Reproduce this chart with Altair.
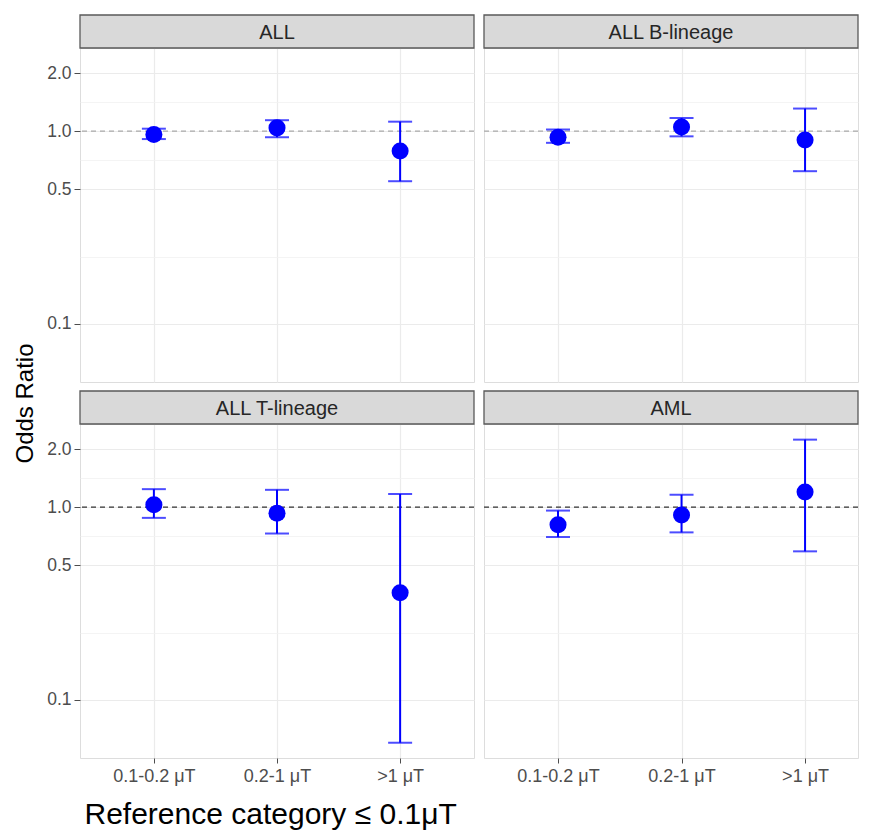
import altair as alt
import pandas as pd

# ---- data ----
PANELS = ["ALL", "ALL B-lineage", "ALL T-lineage", "AML"]
CATS = ["0.1-0.2 μT", "0.2-1 μT", ">1 μT"]

OR_ALL = [0.96, 1.04, 0.79]
LO_ALL = [0.91, 0.93, 0.55]
HI_ALL = [1.03, 1.14, 1.12]

OR_B = [0.93, 1.05, 0.90]
LO_B = [0.87, 0.94, 0.62]
HI_B = [1.02, 1.17, 1.31]

OR_T = [1.03, 0.93, 0.36]
LO_T = [0.88, 0.73, 0.06]
HI_T = [1.24, 1.23, 1.17]

OR_AML = [0.81, 0.91, 1.20]
LO_AML = [0.70, 0.74, 0.59]
HI_AML = [0.96, 1.16, 2.24]

Y_MAJOR = [0.1, 0.5, 1.0, 2.0]
Y_MINOR = [0.2236, 0.7071, 1.4142]
Y_DOMAIN = [0.05, 2.7]

rows = []
for name, o, lo, hi in [
    ("ALL", OR_ALL, LO_ALL, HI_ALL),
    ("ALL B-lineage", OR_B, LO_B, HI_B),
    ("ALL T-lineage", OR_T, LO_T, HI_T),
    ("AML", OR_AML, LO_AML, HI_AML),
]:
    for c, a, b, d in zip(CATS, o, lo, hi):
        rows.append({"panel": name, "cat": c, "odds": a, "lo": b, "hi": d})
df = pd.DataFrame(rows)

FONT = "Liberation Sans"
BLUE = "#0000FF"
H = 334
STRIP = 33

major_test = f"indexof({Y_MAJOR}, datum.value) >= 0"


def panel(name, col, row):
    d = df[df.panel == name]
    top = row == 0
    left = col == 0
    W = 394 if left else 374
    if left:
        xscale = alt.Scale(type="point", domain=CATS, padding=0.6)
    else:
        xscale = alt.Scale(type="point", domain=CATS, padding=0.514, align=0.583)
    yscale = alt.Scale(type="log", domain=Y_DOMAIN, nice=False)

    xa = dict(domain=False, grid=True, gridColor="#EBEBEB", gridWidth=1.2,
              labels=not top, ticks=not top, labelFontSize=18, labelColor="#4D4D4D",
              labelFont=FONT, tickColor="#4D4D4D", tickSize=5, labelPadding=4,
              labelAngle=0)
    if (not top) and left:
        x_axis = alt.Axis(title="Reference category ≤ 0.1μT", titleFontSize=30,
                          titleColor="black", titleFontWeight="normal", titleFont=FONT,
                          titleAnchor="start", titleAlign="left", titleX=4, titleY=65,
                          titleBaseline="alphabetic", **xa)
    else:
        x_axis = alt.Axis(title=None, **xa)

    ya = dict(values=Y_MAJOR + Y_MINOR, domain=False, grid=True,
              gridColor={"condition": {"test": major_test, "value": "#EBEBEB"}, "value": "#F1F1F1"},
              gridWidth={"condition": {"test": major_test, "value": 1.2}, "value": 0.8},
              labels=left, ticks=left,
              tickOpacity={"condition": {"test": major_test, "value": 1}, "value": 0},
              labelExpr=f"{major_test} ? format(datum.value, '.1f') : ''",
              labelOverlap=False, labelFontSize=17.5, labelColor="#4D4D4D", labelFont=FONT,
              tickColor="#4D4D4D", tickSize=6, labelPadding=3)
    if top and left:
        y_axis = alt.Axis(title="Odds Ratio", titleFontSize=24, titleColor="black",
                          titleFontWeight="normal", titleFont=FONT, titleY=355,
                          titlePadding=9, **ya)
    else:
        y_axis = alt.Axis(title=None, **ya)

    X = alt.X("cat:N", scale=xscale, axis=x_axis, sort=CATS)
    strip_df = pd.DataFrame({"panel": [name]})

    strip = alt.Chart(strip_df).mark_rect(fill="#D9D9D9", stroke="#595959", strokeWidth=1.3).encode(
        x=alt.value(0), x2=alt.value(W), y=alt.value(-STRIP), y2=alt.value(0))
    strip_txt = alt.Chart(strip_df).mark_text(fontSize=20, color="#262626", font=FONT,
                                              baseline="middle", align="center").encode(
        x=alt.value(W / 2), y=alt.value(-STRIP / 2 + 1), text="panel:N")
    ref = alt.Chart(strip_df).mark_rule(strokeDash=[5, 4], strokeWidth=1.4,
                                         color="#A9A9A9" if top else "#333333").encode(
        y=alt.YDatum(1.0, type="quantitative", scale=yscale, axis=y_axis))
    bars = alt.Chart(d).mark_rule(color=BLUE, strokeWidth=2).encode(
        x=X, y=alt.Y("lo:Q", scale=yscale, axis=y_axis), y2="hi:Q")
    caps = alt.Chart(d).transform_fold(["lo", "hi"], as_=["k", "v"]).mark_tick(
        color=BLUE, size=24, thickness=2).encode(
        x=X, y=alt.Y("v:Q", scale=yscale, axis=y_axis))
    pts = alt.Chart(d).mark_circle(size=290, color=BLUE, opacity=1).encode(
        x=X, y=alt.Y("odds:Q", scale=yscale, axis=y_axis))

    return alt.layer(ref, bars, caps, pts, strip, strip_txt).properties(width=W, height=H)


charts = [panel(PANELS[0], 0, 0), panel(PANELS[1], 1, 0),
          panel(PANELS[2], 0, 1), panel(PANELS[3], 1, 1)]

chart = alt.concat(*charts, columns=2, spacing={"row": 42, "column": 10},
                   bounds="flush").properties(
    padding={"left": 5, "top": 5, "right": 2, "bottom": 0}
).configure_view(stroke="#595959", strokeWidth=1.3).configure(font=FONT)

chart.save("out.html", embed_options={"renderer": "svg", "actions": False})
